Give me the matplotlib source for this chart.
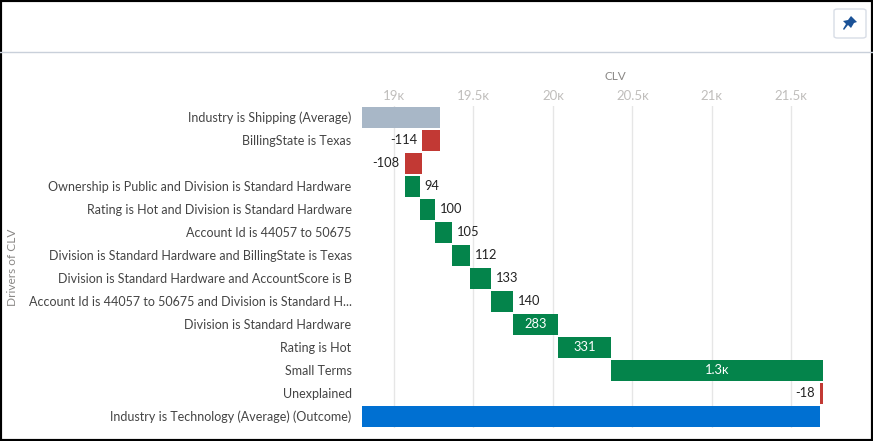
# waterfall of CLV drivers
import matplotlib
matplotlib.use("Agg")
import matplotlib.pyplot as plt
import matplotlib.patches as patches

plt.rcParams['font.family'] = ['Lato', 'Open Sans', 'DejaVu Sans']

labels = ["Industry is Shipping (Average)",
          "BillingState is Texas",
          "",
          "Ownership is Public and Division is Standard Hardware",
          "Rating is Hot and Division is Standard Hardware",
          "Account Id is 44057 to 50675",
          "Division is Standard Hardware and BillingState is Texas",
          "Division is Standard Hardware and AccountScore is B",
          "Account Id is 44057 to 50675 and Division is Standard H...",
          "Division is Standard Hardware",
          "Rating is Hot",
          "Small Terms",
          "Unexplained",
          "Industry is Technology (Average) (Outcome)"]
start_value = 19289
deltas = [-114, -108, 94, 100, 105, 112, 133, 140, 283, 331, 1334, -18]
delta_labels = ["-114", "-108", "94", "100", "105", "112", "133", "140",
                "283", "331", "1.3\u1d0b", "-18"]
tick_values = [19000, 19500, 20000, 20500, 21000, 21500]
tick_labels = ["19\u1d0b", "19.5\u1d0b", "20\u1d0b", "20.5\u1d0b", "21\u1d0b", "21.5\u1d0b"]
x_min = 18799
x_max = 21699

W, H = 873, 441
GREY = '#A8B7C7'
RED = '#C23934'
GREEN = '#04844B'
BLUE = '#0070D2'

fig = plt.figure(figsize=(W/100, H/100), dpi=100, facecolor='white')

# plot area in pixels
left, right, top, bottom = 362, 823, 105.5, 427.5
ax = fig.add_axes([left/W, 1-bottom/H, (right-left)/W, (bottom-top)/H])
ax.set_xlim(x_min, x_max)
ax.set_ylim(len(labels)-0.5, -0.5)
for s in ax.spines.values():
    s.set_visible(False)

ax.xaxis.tick_top()
ax.xaxis.set_label_position('top')
ax.set_xticks(tick_values)
ax.set_xticklabels(tick_labels, fontsize=9.5, color='#C0BEBC')
ax.tick_params(axis='x', length=0, pad=2.5)
ax.set_xlabel("CLV", fontsize=8.5, color='#8A8886', labelpad=7.5, x=0.549)
ax.set_yticks(range(len(labels)))
ax.set_yticklabels(labels, fontsize=9, color='#444444')
ax.tick_params(axis='y', length=0, pad=7.5)
ax.grid(axis='x', color='#E6E6E6', linewidth=1)
ax.set_axisbelow(True)

bar_h = 21/23
ax.barh(0, start_value-x_min, left=x_min, height=bar_h, color=GREY)

pos = start_value
for i, d in enumerate(deltas):
    row = i+1
    ax.barh(row, d, left=pos, height=bar_h, color=GREEN if d > 0 else RED)
    end = pos+d
    txt = delta_labels[i]
    if abs(d) > 200:
        ax.text(pos+d/2, row, txt, ha='center', va='center', fontsize=9.3, color='white')
    elif d > 0:
        ax.annotate(txt, (end, row), xytext=(3.5, 0), textcoords='offset points',
                    ha='left', va='center', fontsize=9.3, color='#222222')
    else:
        ax.annotate(txt, (end, row), xytext=(-3.5, 0), textcoords='offset points',
                    ha='right', va='center', fontsize=9.3, color='#222222')
    pos = end
ax.barh(len(labels)-1, pos-x_min, left=x_min, height=bar_h, color=BLUE)

fig.text(13/W, 1-267/H, "Drivers of CLV", rotation=90, ha='center', va='center',
         fontsize=8.6, color='#8A8886')

# frame, header rule and pin button
fig.add_artist(patches.Rectangle((0, 0), 1, 1, transform=fig.transFigure, fill=False,
                                 edgecolor='black', linewidth=3))
fig.add_artist(plt.Line2D([0, 1], [1-51.5/H, 1-51.5/H], color='#C9D0DA', linewidth=1))
fig.add_artist(patches.FancyBboxPatch((834/W, 1-38/H), 32/W, 29/H, transform=fig.transFigure,
                                      boxstyle=patches.BoxStyle('Round', pad=0, rounding_size=0.004),
                                      facecolor='white', edgecolor='#D8DDE6', linewidth=1))
pin = [(851, 16), (857, 22), (854, 23), (851, 28), (848, 25), (844, 30), (843, 29), (846, 24), (843, 21), (848, 20)]
fig.add_artist(patches.Polygon([(x/W, 1-y/H) for x, y in pin], transform=fig.transFigure,
                               facecolor='#1B5297', edgecolor='none'))

fig.savefig('out.png', dpi=100)
